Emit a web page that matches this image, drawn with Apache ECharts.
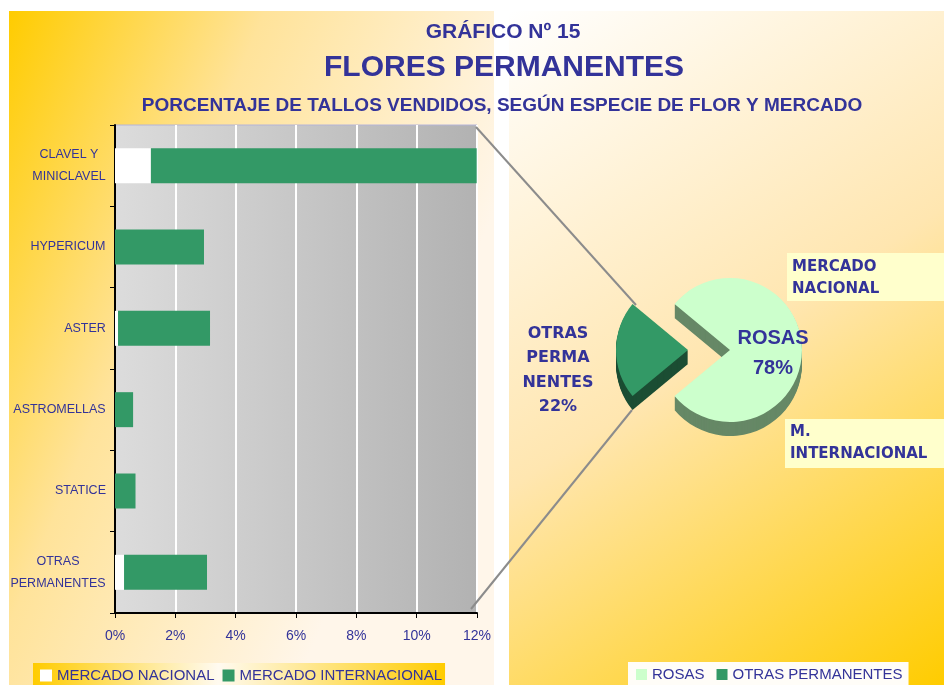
<!DOCTYPE html>
<html>
<head>
<meta charset="utf-8">
<script src="https://cdn.jsdelivr.net/npm/echarts@6/dist/echarts.min.js"></script>
<style>
  html, body { margin: 0; padding: 0; background: #fff; }
  #chart { width: 944px; height: 685px; }
</style>
</head>
<body>
<div id="chart"></div>
<script>
// data (percent of stems sold)
var categories = ['CLAVEL Y\nMINICLAVEL', 'HYPERICUM', 'ASTER', 'ASTROMELLAS', 'STATICE', 'OTRAS\nPERMANENTES'];
var nacional = [1.19, 0, 0.1, 0, 0, 0.3];
var internacional = [10.8, 2.95, 3.05, 0.6, 0.68, 2.75];
var barNames = ['MERCADO NACIONAL', 'MERCADO INTERNACIONAL'];

var pieNames = ['ROSAS', 'OTRAS PERMANENTES'];
var pieValues = [78, 22];
var pieLabels = ['ROSAS', 'OTRAS\nPERMA\nNENTES'];

var blue = '#333399';
var arial = '"Liberation Sans", Arial, sans-serif';
var wide = '"DejaVu Sans", sans-serif';
var pieTop = ['#ccffcc', '#339966'];
var pieSide = ['#668866', '#1b4d33'];

var myChart = echarts.init(document.getElementById('chart'));

// two-line category labels: lines centred inside a right-aligned block
var measure = document.createElement('canvas').getContext('2d');
measure.font = '12.5px "Liberation Sans"';
var catRich = {};
categories.forEach(function (c, i) {
  var w = Math.max.apply(null, c.split('\n').map(function (s) { return measure.measureText(s).width; }));
  catRich['l' + i] = { width: Math.ceil(w), align: 'center', color: blue, fontSize: 12.5, fontFamily: arial, lineHeight: 22 };
});

// pie sits on the right; put OTRAS slice pointing left
var pieSum = pieValues[0] + pieValues[1];
var startAngle = 180 - pieValues[1] / pieSum * 180;
var pieCenter = [730, 350];
var pieR = 72;
var depth = 14;

function wrapLines(txt, key) {
  return txt.split('\n').map(function (s) { return '{' + key + '|' + s + '}'; }).join('\n');
}

var series = [
  {
    type: 'bar', name: barNames[0], stack: 'total', data: nacional,
    barCategoryGap: '57%', itemStyle: { color: '#ffffff' }, silent: true
  },
  {
    type: 'bar', name: barNames[1], stack: 'total', data: internacional,
    itemStyle: { color: '#339966' }, silent: true
  }
];

// side of the 3d pie: stacked darker copies
for (var k = depth; k >= 1; k--) {
  series.push({
    type: 'pie', center: [pieCenter[0], pieCenter[1] + k], radius: pieR,
    startAngle: startAngle, selectedMode: 'single', selectedOffset: 42,
    silent: true, animation: false, z: 1,
    label: { show: false }, labelLine: { show: false },
    emphasis: { disabled: true },
    data: pieNames.map(function (n, i) {
      return { name: n, value: pieValues[i], selected: i === 1, itemStyle: { color: pieSide[i] } };
    })
  });
}

series.push({
  type: 'pie', center: pieCenter, radius: pieR,
  startAngle: startAngle, selectedMode: 'single', selectedOffset: 42,
  silent: true, animation: false, z: 3,
  emphasis: { disabled: true },
  labelLine: { show: false, length: 10, length2: 4 },
  data: pieNames.map(function (n, i) {
    var lbl = i === 0 ? {
      position: 'inside', padding: [6, 0, 0, 8],
      fontSize: 20, fontWeight: 'bold', fontFamily: arial, color: blue,
      formatter: function (p) { return wrapLines(pieLabels[p.dataIndex] + '\n' + p.percent + '%', 'r'); },
      rich: { r: { fontSize: 20, fontWeight: 'bold', fontFamily: arial, color: blue, lineHeight: 30, align: 'center' } }
    } : {
      position: 'outside', padding: [41, 0, 0, 0],
      fontSize: 16, fontWeight: 'bold', fontFamily: wide, color: blue,
      formatter: function (p) { return wrapLines(pieLabels[p.dataIndex] + '\n' + p.percent + '%', 'o'); },
      rich: { o: { width: 78, align: 'center', fontSize: 16, fontWeight: 'bold', fontFamily: wide, color: blue, lineHeight: 24.5 } }
    };
    return { name: n, value: pieValues[i], selected: i === 1, itemStyle: { color: pieTop[i] }, label: lbl };
  })
});

var option = {
  animation: false,
  title: [
    { text: 'GRÁFICO Nº 15', left: 498, top: 17, textAlign: 'center',
      textStyle: { fontFamily: arial, fontWeight: 'bold', fontSize: 21, color: blue } },
    { text: 'FLORES PERMANENTES', left: 499, top: 48, textAlign: 'center',
      textStyle: { fontFamily: arial, fontWeight: 'bold', fontSize: 30, color: blue } },
    { text: 'PORCENTAJE DE TALLOS VENDIDOS, SEGÚN ESPECIE DE FLOR Y MERCADO', left: 497, top: 91, textAlign: 'center',
      textStyle: { fontFamily: arial, fontWeight: 'bold', fontSize: 19, color: blue } }
  ],
  grid: {
    left: 115, right: 467, top: 125, bottom: 72, outerBoundsMode: 'none',
    show: true, borderColor: '#b4b4d8', borderWidth: 1,
    backgroundColor: { type: 'linear', x: 0, y: 0, x2: 1, y2: 0,
      colorStops: [{ offset: 0, color: '#dcdcdc' }, { offset: 1, color: '#b2b2b2' }] }
  },
  xAxis: {
    type: 'value', min: 0, max: 12, interval: 2,
    axisLine: { show: true, lineStyle: { color: '#000', width: 2 } },
    axisTick: { show: true, length: 5, lineStyle: { color: '#000' } },
    splitLine: { show: true, lineStyle: { color: '#ffffff', width: 2 } },
    axisLabel: { formatter: '{value}%', color: blue, fontSize: 14, fontFamily: arial, margin: 16 }
  },
  yAxis: {
    type: 'category', inverse: true, data: categories,
    axisLine: { show: true, lineStyle: { color: '#000', width: 2 } },
    axisTick: { show: true, length: 5, lineStyle: { color: '#000' } },
    splitLine: { show: false },
    axisLabel: {
      margin: 9, color: blue, fontSize: 12.5, fontFamily: arial,
      formatter: function (v, i) { return wrapLines(v, 'l' + i); },
      rich: catRich
    }
  },
  legend: [
    {
      left: 33, top: 663, orient: 'horizontal', icon: 'rect',
      itemWidth: 12, itemHeight: 12, itemGap: 8, padding: [5, 3, 5, 7],
      backgroundColor: { type: 'linear', x: 0, y: 0, x2: 1, y2: 0,
        colorStops: [{ offset: 0, color: '#ffcc00' }, { offset: 0.45, color: '#fffaf0' }, { offset: 1, color: '#ffcc00' }] },
      textStyle: { color: blue, fontSize: 15, fontFamily: arial },
      selectedMode: false,
      data: [
        { name: barNames[0], itemStyle: { color: '#ffffff' } },
        { name: barNames[1], itemStyle: { color: '#339966' } }
      ]
    },
    {
      left: 628, top: 662, orient: 'horizontal', icon: 'rect',
      itemWidth: 11, itemHeight: 11, itemGap: 12, padding: [5, 6, 5, 8],
      backgroundColor: '#fffdf8',
      textStyle: { color: blue, fontSize: 15, fontFamily: arial },
      selectedMode: false,
      data: [
        { name: pieNames[0], itemStyle: { color: pieTop[0] } },
        { name: pieNames[1], itemStyle: { color: pieTop[1] } }
      ]
    }
  ],
  graphic: [
    { type: 'rect', z: -10, silent: true, shape: { x: 9, y: 11, width: 485, height: 674 },
      style: { fill: { type: 'linear', x: 0, y: 0, x2: 1, y2: 0.3,
        colorStops: [{ offset: 0, color: '#ffcc00' }, { offset: 0.45, color: '#ffe39a' }, { offset: 1, color: '#fff6ea' }] } } },
    { type: 'rect', z: -10, silent: true, shape: { x: 509, y: 11, width: 435, height: 674 },
      style: { fill: { type: 'linear', x: 0, y: 0, x2: 1, y2: 1,
        colorStops: [{ offset: 0, color: '#ffffff' }, { offset: 0.5, color: '#ffe6b0' }, { offset: 1, color: '#ffcc00' }] } } },
    { type: 'line', z: 10, silent: true, shape: { x1: 476, y1: 127, x2: 636, y2: 305 },
      style: { stroke: '#8c8c8c', lineWidth: 2 } },
    { type: 'line', z: 10, silent: true, shape: { x1: 471, y1: 609, x2: 632, y2: 410 },
      style: { stroke: '#8c8c8c', lineWidth: 2 } },
    { type: 'rect', z: 10, silent: true, shape: { x: 787, y: 253, width: 157, height: 48 }, style: { fill: '#ffffcc' } },
    { type: 'text', z: 11, silent: true, x: 792, y: 256,
      style: { text: 'MERCADO\nNACIONAL', font: 'bold 15px "DejaVu Sans"', fill: blue, lineHeight: 22 } },
    { type: 'rect', z: 10, silent: true, shape: { x: 785, y: 419, width: 159, height: 49 }, style: { fill: '#ffffcc' } },
    { type: 'text', z: 11, silent: true, x: 790, y: 421,
      style: { text: 'M.\nINTERNACIONAL', font: 'bold 15px "DejaVu Sans"', fill: blue, lineHeight: 22 } }
  ],
  series: series
};

myChart.setOption(option);
</script>
</body>
</html>
